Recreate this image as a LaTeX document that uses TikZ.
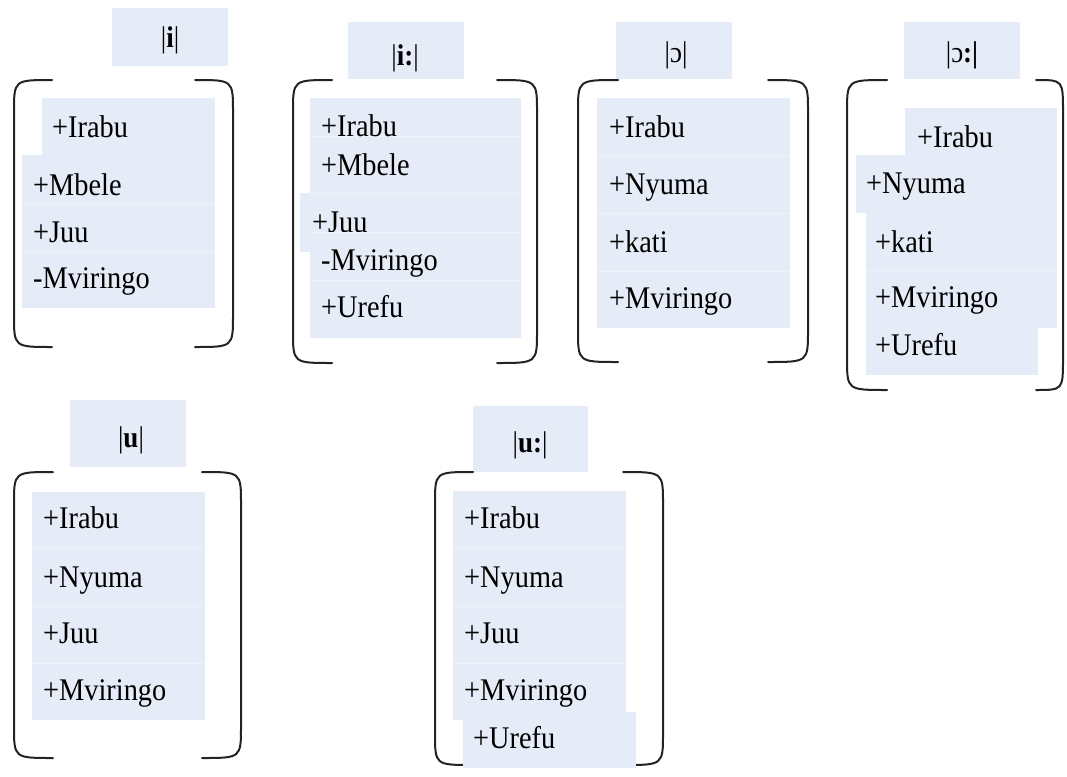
\documentclass[tikz,border=0pt]{standalone}
\usepackage{fontspec}
\setmainfont{Liberation Serif}
\newfontfamily\featfont[FakeStretch=0.9]{Liberation Serif}
\begin{document}
\begin{tikzpicture}[x=1pt,y=-1pt,
  cellfill/.style={fill=cellblue},
  cellrule/.style={draw=cellrule,line width=0.8pt},
  feat/.style={anchor=base west,inner sep=0pt,font=\featfont\fontsize{31.5}{34}\selectfont},
  title/.style={anchor=base,inner sep=0pt,font=\featfont\fontsize{30}{32}\selectfont},
  brk/.style={draw=bracketgray,line width=2pt,line cap=round}]
\definecolor{cellblue}{RGB}{230,236,247}
\definecolor{cellrule}{RGB}{238,242,250}
\definecolor{bracketgray}{RGB}{35,35,35}
\useasboundingbox (0,0) rectangle (1067,776);
% shaded cell: x1 y1 x2 y2
\newcommand{\cellbox}[4]{\path[cellfill] (#1,#2) rectangle (#3,#4);}
% pair of round brackets: left x, left tip x, right tip x, right x, top, bottom
\newcommand{\brackpair}[6]{%
  \path[brk] (#2,#5) .. controls (#1,#5) .. (#1,#5+32) -- (#1,#6-32) .. controls (#1,#6) .. (#2,#6);
  \path[brk] (#3,#5) .. controls (#4,#5) .. (#4,#5+32) -- (#4,#6-32) .. controls (#4,#6) .. (#3,#6);}

% ---------- |i| ----------
\cellbox{112}{8}{228}{66}
\node[title] (tI) at (170,48) {|\textbf{i}|};
\brackpair{14}{52}{195}{233}{80}{347}
\cellbox{42}{98}{215}{155}
\cellbox{22}{155}{215}{203}
\cellbox{22}{203}{215}{252}
\cellbox{22}{252}{215}{308}
\draw[cellrule] (22,203) -- (215,203) (22,252) -- (215,252);
\node[feat] (a1) at (52,137) {+Irabu};
\node[feat] (a2) at (33,195) {+Mbele};
\node[feat] (a3) at (33,242) {+Juu};
\node[feat] (a4) at (33,288) {-Mviringo};

% ---------- |i:| ----------
\cellbox{348}{22}{464}{79}
\node[title] (tII) at (405,65) {|\textbf{i:}|};
\brackpair{293}{332}{497}{537}{80}{363}
\cellbox{310}{98}{521}{136}
\cellbox{310}{136}{521}{193}
\draw[cellrule] (310,136) -- (521,136);
\node[feat] (b1) at (321,136) {+Irabu};
\node[feat] (b2) at (321,175) {+Mbele};
\cellbox{300}{193}{521}{252}
\draw[cellrule] (310,193) -- (521,193);
\node[feat] (b3) at (312,232) {+Juu};
\cellbox{310}{232}{521}{280}
\cellbox{310}{280}{521}{338}
\draw[cellrule] (310,232) -- (521,232) (310,280) -- (521,280);
\node[feat] (b4) at (321,270) {-Mviringo};
\node[feat] (b5) at (321,317) {+Urefu};

% ---------- |ɔ| ----------
\cellbox{616}{22}{732}{79}
\node[title] (tO) at (676,63) {|ɔ|};
\brackpair{578}{618}{768}{808}{80}{362}
\cellbox{597}{98}{790}{328}
\draw[cellrule] (597,155) -- (790,155) (597,213) -- (790,213) (597,271) -- (790,271);
\node[feat] (c1) at (609,137) {+Irabu};
\node[feat] (c2) at (609,194) {+Nyuma};
\node[feat] (c3) at (609,252) {+kati};
\node[feat] (c4) at (609,308) {+Mviringo};

% ---------- |ɔ:| ----------
\cellbox{904}{22}{1020}{79}
\node[title] (tOO) at (962,63) {|ɔ\textbf{:|}};
\brackpair{847}{887}{1036}{1063}{80}{390}
\cellbox{905}{108}{1057}{155}
\cellbox{856}{155}{1057}{213}
\cellbox{866}{213}{1057}{270}
\cellbox{866}{270}{1057}{328}
\draw[cellrule] (866,270) -- (1057,270);
\cellbox{866}{318}{1038}{375}
\node[feat] (d1) at (917,147) {+Irabu};
\node[feat] (d2) at (866,193) {+Nyuma};
\node[feat] (d3) at (875,252) {+kati};
\node[feat] (d4) at (875,307) {+Mviringo};
\node[feat] (d5) at (875,355) {+Urefu};

% ---------- |u| ----------
\cellbox{70}{400}{186}{467}
\node[title] (tU) at (131,447) {|\textbf{u}|};
\brackpair{14}{53}{202}{241}{472}{758}
\cellbox{32}{492}{205}{720}
\draw[cellrule] (32,548) -- (205,548) (32,606) -- (205,606) (32,663) -- (205,663);
\node[feat] (e1) at (43,528) {+Irabu};
\node[feat] (e2) at (43,587) {+Nyuma};
\node[feat] (e3) at (43,643) {+Juu};
\node[feat] (e4) at (43,700) {+Mviringo};

% ---------- |u:| ----------
\cellbox{473}{406}{588}{472}
\node[title] (tUU) at (530,452) {|\textbf{u:}|};
\brackpair{435}{473}{623}{663}{472}{765}
\cellbox{453}{491}{626}{720}
\draw[cellrule] (453,548) -- (626,548) (453,606) -- (626,606) (453,663) -- (626,663);
\node[feat] (f1) at (464,528) {+Irabu};
\node[feat] (f2) at (464,587) {+Nyuma};
\node[feat] (f3) at (464,643) {+Juu};
\node[feat] (f4) at (464,700) {+Mviringo};
\cellbox{463}{712}{636}{768}
\node[feat] (f5) at (473,748) {+Urefu};
\end{tikzpicture}
\end{document}
